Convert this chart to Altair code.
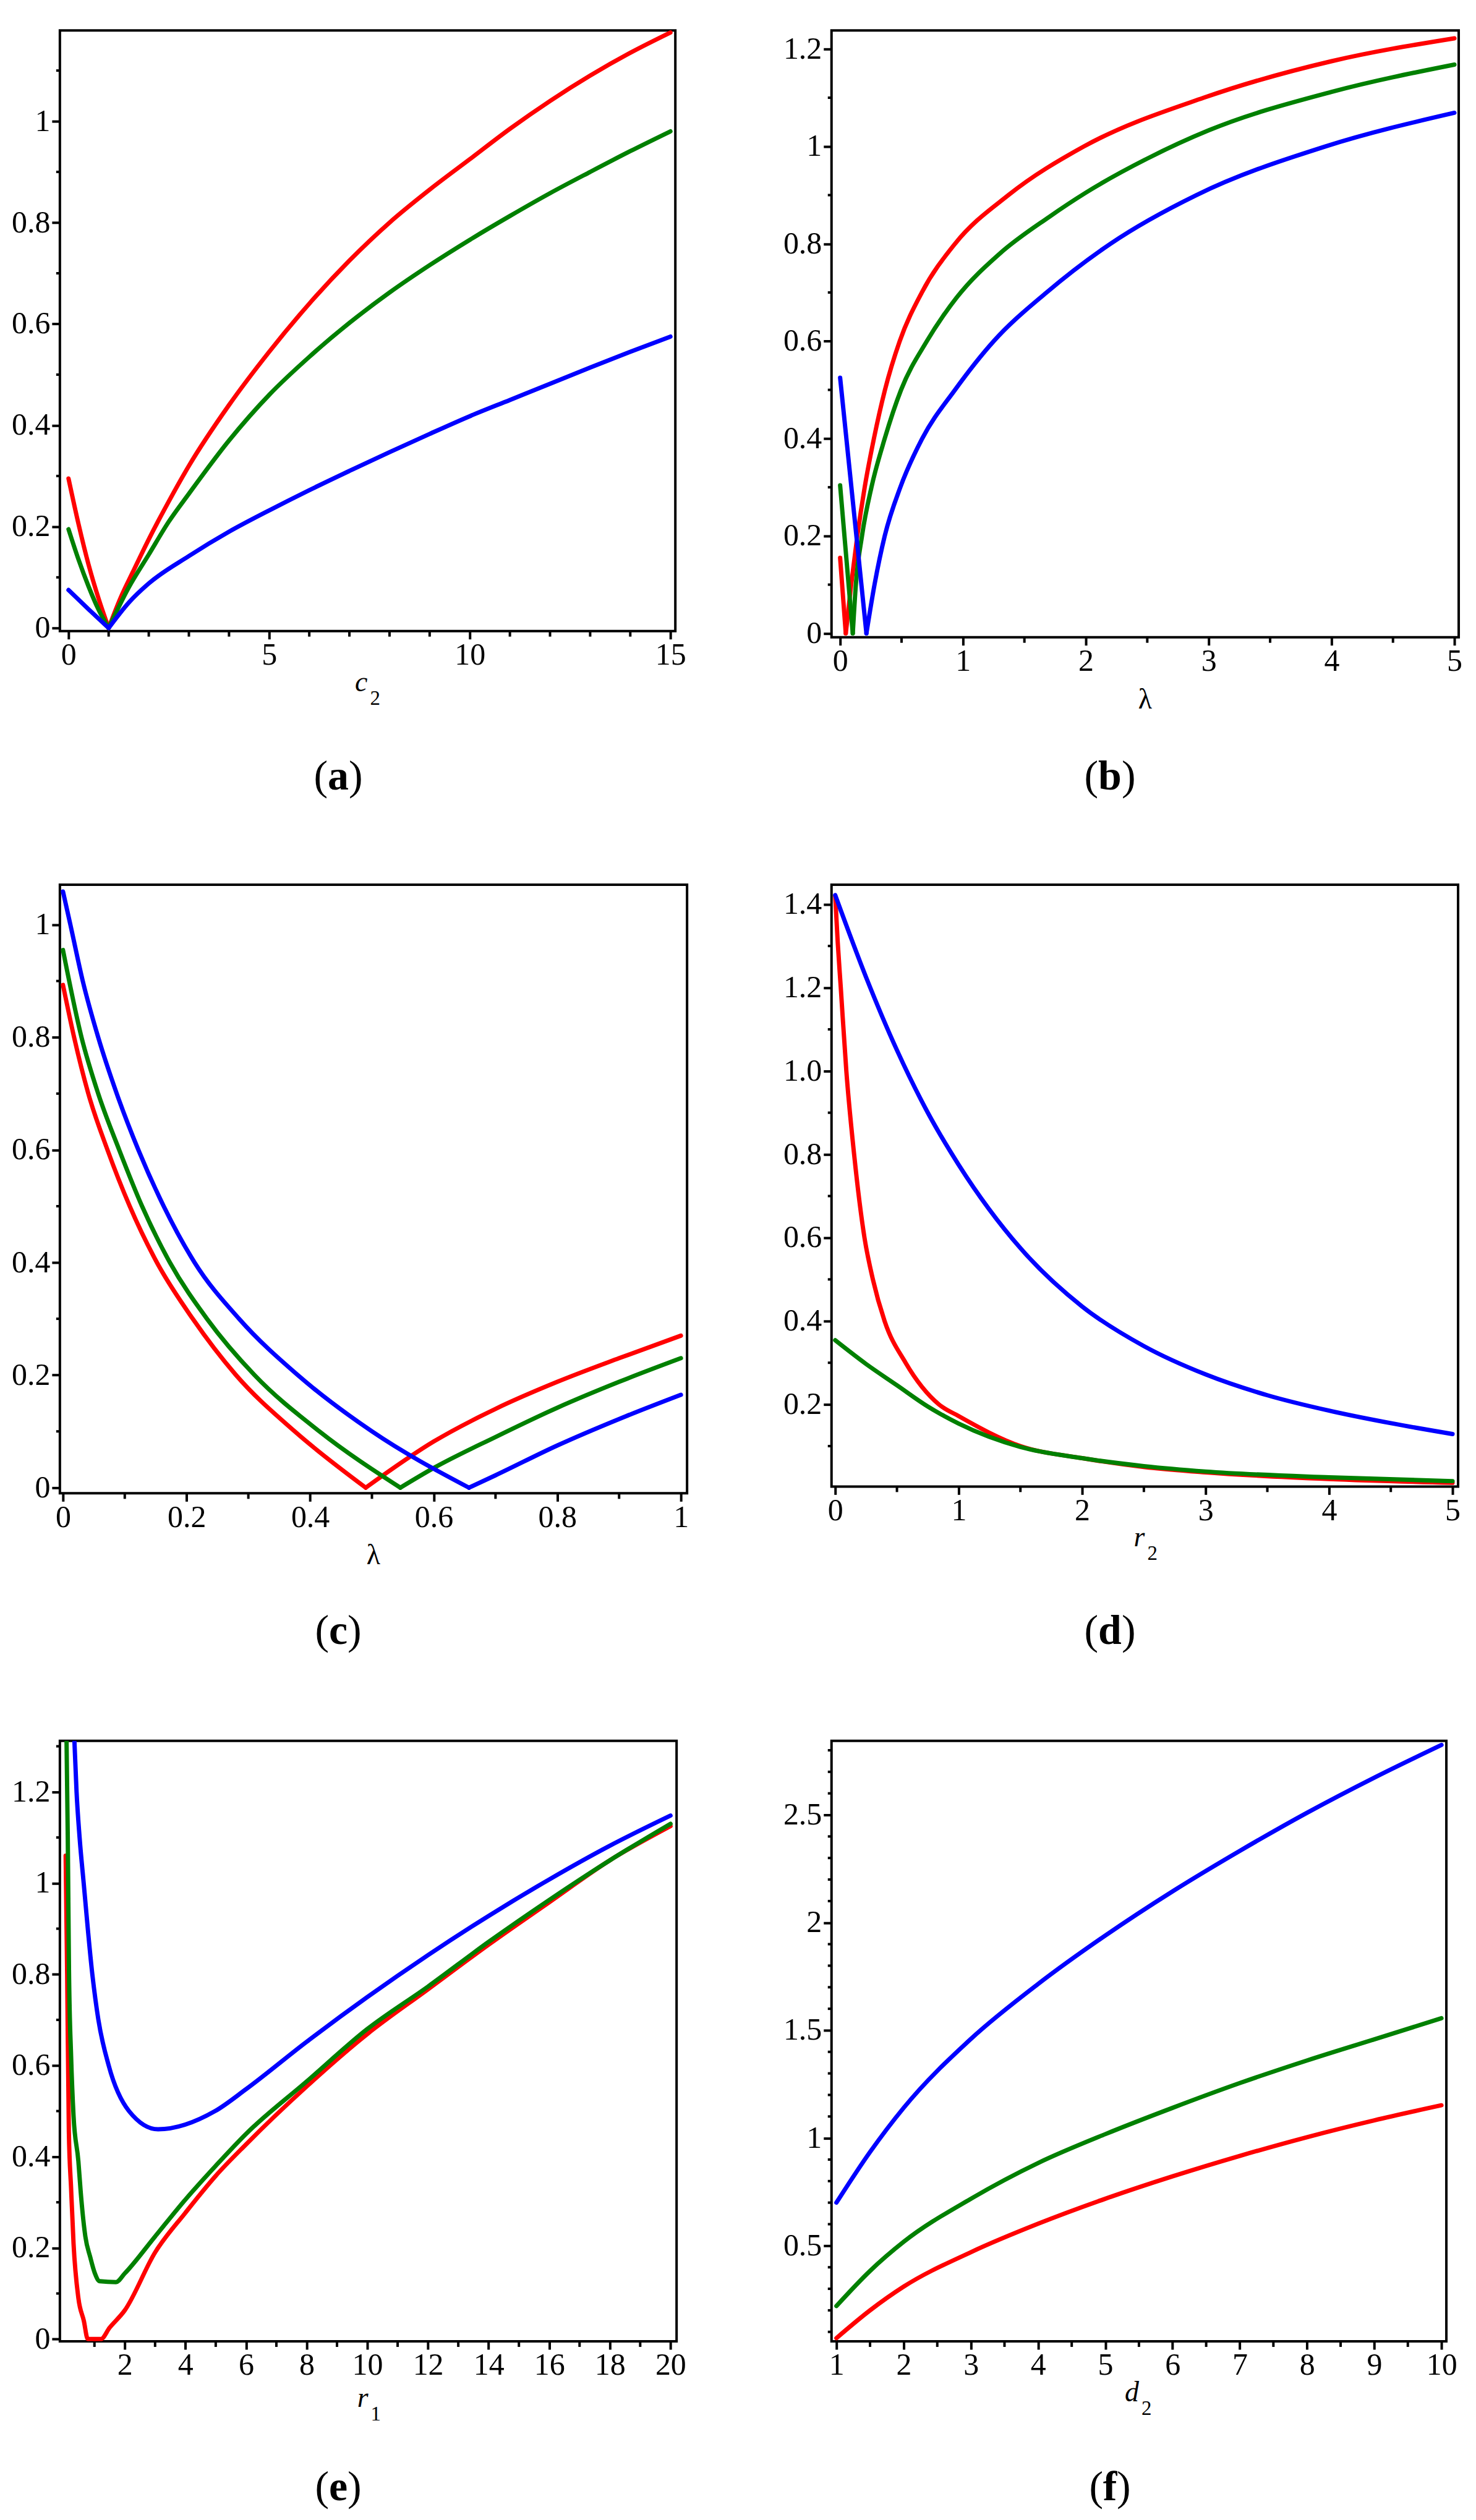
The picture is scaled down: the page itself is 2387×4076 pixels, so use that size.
import altair as alt
import pandas as pd

FONT = "Liberation Serif"
RED, GREEN, BLUE = "#ff0000", "#008000", "#0000ff"

# ---------------- Panel (a): x = c2 ----------------
A_RED_L_X = [0, 0.25, 0.5, 0.75, 1.0]
A_RED_L_Y = [0.295, 0.205, 0.125, 0.058, 0.0]
A_RED_R_X = [1, 1.3, 1.6, 2, 2.5, 3, 4, 5, 6, 7, 8, 9, 10, 11, 12, 13, 14, 15]
A_RED_R_Y = [0, 0.06, 0.11, 0.175, 0.25, 0.32, 0.44, 0.545, 0.64, 0.725, 0.8, 0.865, 0.925, 0.985, 1.04, 1.09, 1.135, 1.175]
A_GRN_L_X = [0, 0.25, 0.5, 0.75, 1.0]
A_GRN_L_Y = [0.195, 0.135, 0.082, 0.036, 0.0]
A_GRN_R_X = [1, 1.5, 2, 2.5, 3, 4, 5, 6, 7, 8, 9, 10, 11, 12, 13, 14, 15]
A_GRN_R_Y = [0, 0.08, 0.145, 0.21, 0.265, 0.37, 0.46, 0.535, 0.602, 0.662, 0.716, 0.766, 0.813, 0.858, 0.9, 0.941, 0.98]
A_BLU_L_X = [0, 0.5, 1.0]
A_BLU_L_Y = [0.075, 0.037, 0.0]
A_BLU_R_X = [1, 1.5, 2, 3, 4, 5, 6, 7, 8, 9, 10, 11, 12, 13, 14, 15]
A_BLU_R_Y = [0, 0.05, 0.088, 0.142, 0.19, 0.232, 0.272, 0.31, 0.347, 0.383, 0.418, 0.45, 0.482, 0.514, 0.545, 0.575]

# ---------------- Panel (b): x = lambda ----------------
B_RED_L_X = [0, 0.046]
B_RED_L_Y = [0.155, 0.0]
B_RED_R_X = [0.046, 0.09, 0.14, 0.2, 0.275, 0.365, 0.485, 0.665, 0.935, 1.37, 1.985, 2.96, 4, 5]
B_RED_R_Y = [0, 0.1, 0.2, 0.3, 0.4, 0.5, 0.6, 0.7, 0.8, 0.9, 1.0, 1.1, 1.175, 1.222]
B_GRN_L_X = [0, 0.103]
B_GRN_L_Y = [0.304, 0.0]
B_GRN_R_X = [0.103, 0.128, 0.178, 0.255, 0.363, 0.496, 0.706, 0.95, 1.3, 1.7, 2, 2.5, 3, 4, 5]
B_GRN_R_Y = [0, 0.1, 0.2, 0.3, 0.4, 0.5, 0.6, 0.69, 0.78, 0.855, 0.905, 0.975, 1.033, 1.112, 1.168]
B_BLU_L_X = [0, 0.214]
B_BLU_L_Y = [0.525, 0.0]
B_BLU_R_X = [0.214, 0.28, 0.363, 0.49, 0.668, 0.935, 1.25, 1.68, 2.2, 2.9, 3.95, 5]
B_BLU_R_Y = [0, 0.1, 0.2, 0.3, 0.4, 0.5, 0.6, 0.7, 0.8, 0.9, 1.0, 1.069]

# ---------------- Panel (c): x = lambda ----------------
C_RED_L_X = [0, 0.018, 0.041, 0.072, 0.108, 0.152, 0.21, 0.28, 0.375, 0.49]
C_RED_L_Y = [0.893, 0.8, 0.7, 0.6, 0.5, 0.4, 0.3, 0.2, 0.1, 0.0]
C_RED_R_X = [0.49, 0.6, 0.7, 0.8, 0.9, 1.0]
C_RED_R_Y = [0.0, 0.082, 0.14, 0.188, 0.23, 0.27]
C_GRN_L_X = [0, 0.03, 0.057, 0.091, 0.128, 0.173, 0.233, 0.31, 0.415, 0.546]
C_GRN_L_Y = [0.955, 0.8, 0.7, 0.6, 0.5, 0.4, 0.3, 0.2, 0.1, 0.0]
C_GRN_R_X = [0.546, 0.6, 0.7, 0.8, 0.9, 1.0]
C_GRN_R_Y = [0.0, 0.035, 0.09, 0.142, 0.188, 0.23]
C_BLU_L_X = [0, 0.012, 0.032, 0.057, 0.087, 0.122, 0.163, 0.213, 0.285, 0.38, 0.5, 0.657]
C_BLU_L_Y = [1.059, 1.0, 0.9, 0.8, 0.7, 0.6, 0.5, 0.4, 0.3, 0.2, 0.1, 0.0]
C_BLU_R_X = [0.657, 0.7, 0.8, 0.9, 1.0]
C_BLU_R_Y = [0.0, 0.022, 0.075, 0.122, 0.165]

# ---------------- Panel (d): x = r2 ----------------
D_RED_X = [0, 0.02, 0.045, 0.09, 0.153, 0.237, 0.305, 0.40, 0.57, 0.84, 1, 1.5, 2, 2.5, 3, 4, 5]
D_RED_Y = [1.42, 1.31, 1.2, 1.0, 0.8, 0.6, 0.5, 0.4, 0.3, 0.2, 0.172, 0.1, 0.071, 0.05, 0.037, 0.021, 0.012]
D_GRN_X = [0, 0.25, 0.5, 0.75, 1, 1.5, 2, 2.5, 3, 4, 5]
D_GRN_Y = [0.354, 0.297, 0.246, 0.195, 0.154, 0.098, 0.071, 0.052, 0.039, 0.025, 0.016]
D_BLU_X = [0, 0.25, 0.5, 0.75, 1, 1.5, 2, 2.5, 3, 3.5, 4, 4.5, 5]
D_BLU_Y = [1.422, 1.225, 1.05, 0.9, 0.775, 0.575, 0.435, 0.34, 0.272, 0.222, 0.185, 0.155, 0.129]

# ---------------- Panel (e): x = r1 ----------------
E_RED_X = [0.05, 0.1, 0.156, 0.23, 0.31, 0.47, 0.65, 0.78, 1.21, 1.5, 2, 3, 4, 5, 6, 8, 10, 12, 14, 16, 18, 20]
E_RED_Y = [1.06, 0.8, 0.455, 0.33, 0.21, 0.09, 0.04, 0.0, 0.0, 0.025, 0.063, 0.19, 0.277, 0.358, 0.427, 0.554, 0.669, 0.767, 0.865, 0.958, 1.05, 1.125]
E_GRN_X = [0.08, 0.12, 0.16, 0.23, 0.31, 0.47, 0.55, 0.7, 0.86, 1.01, 1.17, 1.71, 2, 3, 4, 5, 6, 8, 10, 12, 14, 16, 18, 20]
E_GRN_Y = [1.31, 1.1, 0.81, 0.62, 0.49, 0.39, 0.32, 0.225, 0.18, 0.145, 0.127, 0.125, 0.144, 0.225, 0.306, 0.38, 0.45, 0.565, 0.68, 0.773, 0.871, 0.963, 1.05, 1.13]
E_BLU_X = [0.34, 0.41, 0.51, 0.645, 0.93, 1.13, 1.47, 2.14, 3.1, 4.98, 6, 8, 10, 12, 14, 16, 18, 20]
E_BLU_Y = [1.31, 1.2, 1.1, 1.0, 0.8, 0.7, 0.6, 0.5, 0.46, 0.5, 0.548, 0.652, 0.75, 0.842, 0.928, 1.008, 1.082, 1.148]

# ---------------- Panel (f): x = d2 ----------------
F_X = [1, 1.5, 2, 3, 4, 5, 6, 7, 8, 9, 10]
F_RED_Y = [0.071, 0.2, 0.31, 0.47, 0.602, 0.718, 0.822, 0.917, 1.004, 1.082, 1.152]
F_GRN_Y = [0.22, 0.383, 0.518, 0.718, 0.884, 1.018, 1.14, 1.255, 1.36, 1.458, 1.556]
F_BLU_Y = [0.70, 0.935, 1.14, 1.46, 1.715, 1.94, 2.145, 2.333, 2.51, 2.673, 2.825]

# ---------------- Axis ticks ----------------
A_XMAJ = [0, 5, 10, 15]
A_XMIN = [1, 2, 3, 4, 6, 7, 8, 9, 11, 12, 13, 14]
A_YMAJ = [0, 0.2, 0.4, 0.6, 0.8, 1]
A_YMIN = [0.1, 0.3, 0.5, 0.7, 0.9, 1.1]
B_XMAJ = [0, 1, 2, 3, 4, 5]
B_XMIN = [0.5, 1.5, 2.5, 3.5, 4.5]
B_YMAJ = [0, 0.2, 0.4, 0.6, 0.8, 1, 1.2]
B_YMIN = [0.1, 0.3, 0.5, 0.7, 0.9, 1.1]
C_XMAJ = [0, 0.2, 0.4, 0.6, 0.8, 1]
C_XMIN = [0.1, 0.3, 0.5, 0.7, 0.9]
C_YMAJ = [0, 0.2, 0.4, 0.6, 0.8, 1]
C_YMIN = [0.1, 0.3, 0.5, 0.7, 0.9]
D_XMAJ = [0, 1, 2, 3, 4, 5]
D_XMIN = [0.5, 1.5, 2.5, 3.5, 4.5]
D_YMAJ = [0.2, 0.4, 0.6, 0.8, 1.0, 1.2, 1.4]
D_YMIN = [0.1, 0.3, 0.5, 0.7, 0.9, 1.1, 1.3]
E_XMAJ = [2, 4, 6, 8, 10, 12, 14, 16, 18, 20]
E_XMIN = [1, 3, 5, 7, 9, 11, 13, 15, 17, 19]
E_YMAJ = [0, 0.2, 0.4, 0.6, 0.8, 1, 1.2]
E_YMIN = [0.1, 0.3, 0.5, 0.7, 0.9, 1.1, 1.3]
F_XMAJ = [1, 2, 3, 4, 5, 6, 7, 8, 9, 10]
F_XMIN = [1.5, 2.5, 3.5, 4.5, 5.5, 6.5, 7.5, 8.5, 9.5]
F_YMAJ = [0.5, 1, 1.5, 2, 2.5]
F_YMIN = [0.1, 0.2, 0.3, 0.4, 0.6, 0.7, 0.8, 0.9, 1.1, 1.2, 1.3, 1.4, 1.6, 1.7, 1.8, 1.9,
          2.1, 2.2, 2.3, 2.4, 2.6, 2.7, 2.8]

DUMMY = pd.DataFrame({"k": [0]})
HALF_BOLD = {"a": 17, "b": 19, "c": 15, "d": 19, "e": 15, "f": 11}


def txt(text, x, y, size, align="center", style=None, weight=None):
    kw = dict(text=text, font=FONT, fontSize=size, align=align,
              baseline="alphabetic", color="black")
    if style:
        kw["fontStyle"] = style
    if weight:
        kw["fontWeight"] = weight
    return alt.Chart(DUMMY).mark_text(**kw).encode(x=alt.value(x), y=alt.value(y))


def panel(w, h, xdom, ydom, xmaj, xmin, ymaj, ymin, xfmt, yfmt, curves,
          letter, sub, caption, clip=False, title_dy=0):
    xs = alt.Scale(domain=xdom, nice=False, zero=False)
    ys = alt.Scale(domain=ydom, nice=False, zero=False)
    xax = alt.Axis(values=xmaj, format=xfmt, title=None)
    yax = alt.Axis(values=ymaj, format=yfmt, title=None)
    layers = []
    for color, branches in curves:
        rows = []
        for gi, (bx, by) in enumerate(branches):
            for xv, yv in zip(bx, by):
                rows.append({"x": xv, "y": yv, "g": gi})
        df = pd.DataFrame(rows)
        layers.append(
            alt.Chart(df).mark_line(color=color, strokeWidth=7, interpolate="monotone",
                                    strokeCap="round", clip=clip)
            .encode(x=alt.X("x:Q", scale=xs, axis=xax),
                    y=alt.Y("y:Q", scale=ys, axis=yax),
                    detail="g:N")
        )
    layers.append(
        alt.Chart(pd.DataFrame({"x": xmin})).mark_rule(color="black", strokeWidth=4)
        .encode(x=alt.X("x:Q", scale=xs, axis=xax), y=alt.value(h), y2=alt.value(h + 9))
    )
    layers.append(
        alt.Chart(pd.DataFrame({"y": ymin})).mark_rule(color="black", strokeWidth=4)
        .encode(y=alt.Y("y:Q", scale=ys, axis=yax), x=alt.value(-6), x2=alt.value(0))
    )
    mid = w / 2
    if sub is None:
        layers.append(txt(letter, mid, h + 115 + title_dy, 46))
    else:
        layers.append(txt(letter, mid, h + 97 + title_dy, 46, align="right", style="italic"))
        layers.append(txt(sub, mid + 4, h + 119 + title_dy, 33, align="left"))
    cx, base = 451, 1230
    hw = HALF_BOLD[caption]
    layers.append(txt("(", cx - hw, base, 68, align="right"))
    layers.append(txt(caption, cx, base, 68, weight="bold"))
    layers.append(txt(")", cx + hw, base, 68, align="left"))
    return alt.layer(*layers).properties(width=w, height=h)


pa = panel(997, 973, [-0.215, 15.123], [-0.006, 1.179], A_XMAJ, A_XMIN, A_YMAJ, A_YMIN, "d", ".1~f",
           [(RED, [(A_RED_L_X, A_RED_L_Y), (A_RED_R_X, A_RED_R_Y)]),
            (GREEN, [(A_GRN_L_X, A_GRN_L_Y), (A_GRN_R_X, A_GRN_R_Y)]),
            (BLUE, [(A_BLU_L_X, A_BLU_L_Y), (A_BLU_R_X, A_BLU_R_Y)])],
           "c", "2", "a")
pb = panel(1016, 983, [-0.07, 5.035], [-0.008, 1.238], B_XMAJ, B_XMIN, B_YMAJ, B_YMIN, "d", ".1~f",
           [(RED, [(B_RED_L_X, B_RED_L_Y), (B_RED_R_X, B_RED_R_Y)]),
            (GREEN, [(B_GRN_L_X, B_GRN_L_Y), (B_GRN_R_X, B_GRN_R_Y)]),
            (BLUE, [(B_BLU_L_X, B_BLU_L_Y), (B_BLU_R_X, B_BLU_R_Y)])],
           "λ", None, "b")
pc = panel(1016, 986, [-0.005, 1.01], [-0.01, 1.071], C_XMAJ, C_XMIN, C_YMAJ, C_YMIN, ".1~f", ".1~f",
           [(RED, [(C_RED_L_X, C_RED_L_Y), (C_RED_R_X, C_RED_R_Y)]),
            (GREEN, [(C_GRN_L_X, C_GRN_L_Y), (C_GRN_R_X, C_GRN_R_Y)]),
            (BLUE, [(C_BLU_L_X, C_BLU_L_Y), (C_BLU_R_X, C_BLU_R_Y)])],
           "λ", None, "c")
pd_ = panel(1015, 975, [-0.03, 5.045], [0.003, 1.447], D_XMAJ, D_XMIN, D_YMAJ, D_YMIN, "d", ".1f",
            [(RED, [(D_RED_X, D_RED_Y)]),
             (GREEN, [(D_GRN_X, D_GRN_Y)]),
             (BLUE, [(D_BLU_X, D_BLU_Y)])],
            "r", "2", "d")
pe = panel(999, 973, [-0.14, 20.2], [-0.005, 1.312], E_XMAJ, E_XMIN, E_YMAJ, E_YMIN, "d", ".1~f",
           [(RED, [(E_RED_X, E_RED_Y)]),
            (GREEN, [(E_GRN_X, E_GRN_Y)]),
            (BLUE, [(E_BLU_X, E_BLU_Y)])],
           "r", "1", "e", clip=True, title_dy=9)
pf = panel(996, 973, [0.927, 10.073], [0.056, 2.844], F_XMAJ, F_XMIN, F_YMAJ, F_YMIN, "d", ".1~f",
           [(RED, [(F_X, F_RED_Y)]),
            (GREEN, [(F_X, F_GRN_Y)]),
            (BLUE, [(F_X, F_BLU_Y)])],
           "d", "2", "f")

chart = (
    alt.concat(pa, pb, pc, pd_, pe, pf, columns=2,
               spacing=alt.RowColnumber(row=401, column=234), bounds="flush")
    .properties(padding={"left": 8, "top": 25, "right": 10, "bottom": 10}, background="white")
    .configure_view(stroke="black", strokeWidth=4)
    .configure_axis(domain=False, grid=False, ticks=True, tickSize=13, tickWidth=4,
                    tickColor="black", labelFont=FONT, labelFontSize=50, labelColor="black",
                    labelFlush=False, labelOverlap=False)
    .configure_axisX(labelPadding=1)
    .configure_axisY(labelPadding=3)
)

chart.save("out.html", embed_options={"renderer": "svg", "actions": False})
